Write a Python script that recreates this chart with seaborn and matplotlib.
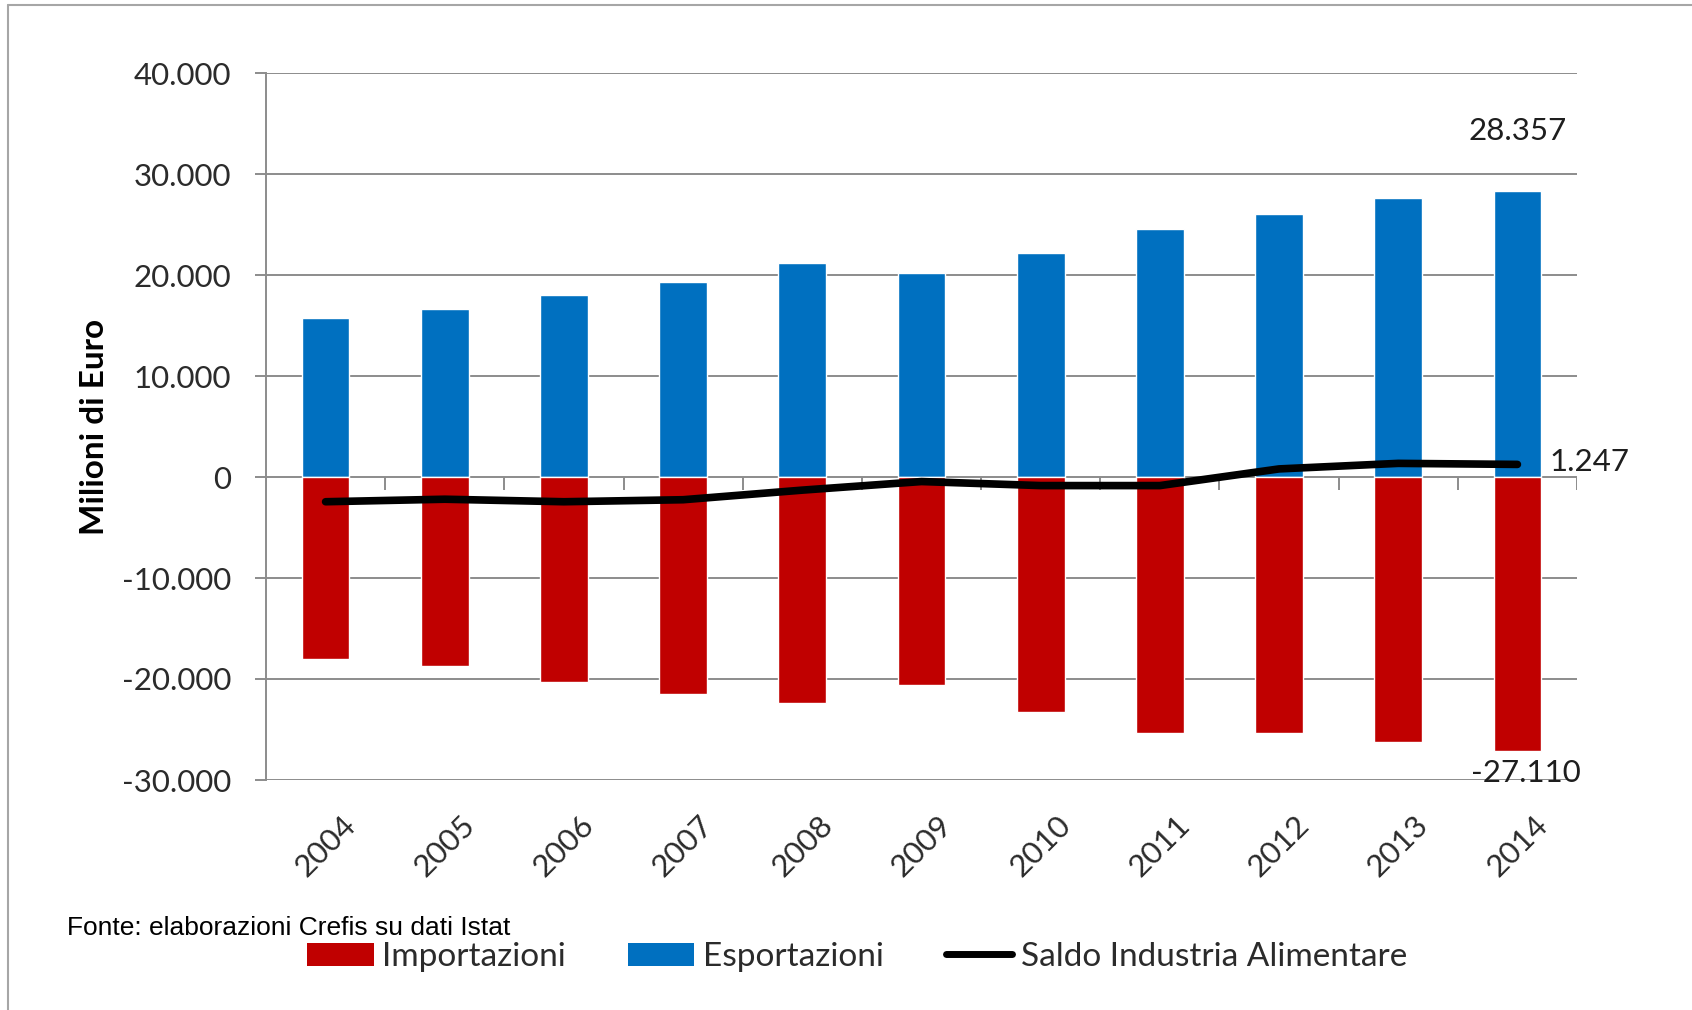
import numpy as np
import pandas as pd
import matplotlib
matplotlib.use("Agg")
import matplotlib.pyplot as plt
from matplotlib.patches import Patch
from matplotlib.lines import Line2D
import seaborn as sns

# Food industry trade balance, millions of euro
years = ["2004", "2005", "2006", "2007", "2008", "2009",
         "2010", "2011", "2012", "2013", "2014"]
esportazioni = [15700, 16650, 18050, 19350, 21150, 20200,
                22200, 24550, 26050, 27650, 28357]
importazioni = [-18050, -18700, -20300, -21450, -22350, -20600,
                -23300, -25300, -25300, -26200, -27110]
saldo = [-2450, -2200, -2450, -2250, -1300, -450,
         -850, -850, 800, 1350, 1247]
yticks = [-30000, -20000, -10000, 0, 10000, 20000, 30000, 40000]

BLUE = "#0070C0"
RED = "#C00000"
GRID = "#8c8c8c"
TXT = "#2b2b2b"

sns.set_style("white")
plt.rcParams["font.family"] = ["Lato", "DejaVu Sans"]

df = pd.DataFrame({"anno": years, "exp": esportazioni, "imp": importazioni,
                   "saldo": saldo})
df["pos"] = np.arange(len(df))

fig = plt.figure(figsize=(16.92, 10.10), dpi=100)
ax = fig.add_axes([266 / 1692, 1 - 780 / 1010, 1311 / 1692, 707 / 1010])

sns.barplot(data=df, x="anno", y="exp", color=BLUE, width=0.4,
            saturation=1, ax=ax, zorder=2)
sns.barplot(data=df, x="anno", y="imp", color=RED, width=0.4,
            saturation=1, ax=ax, zorder=2)
sns.lineplot(data=df, x="pos", y="saldo", color="black", lw=5.5,
             ax=ax, zorder=4, solid_capstyle="round")

ax.set_xlim(-0.5, len(years) - 0.5)
ax.set_ylim(-30000, 40000)
ax.set_yticks(yticks)
ax.set_yticklabels([f"{v:,}".replace(",", ".") for v in yticks])
ax.set_xticks(range(len(years)))
ax.set_xticklabels(years, rotation=45, ha="center")

ax.yaxis.grid(True, color=GRID, lw=1.4)
ax.set_axisbelow(True)
for s in ("top", "right", "bottom"):
    ax.spines[s].set_visible(False)
ax.spines["left"].set_color(GRID)
ax.spines["left"].set_linewidth(1.4)

ax.tick_params(axis="y", direction="out", length=8, width=1.4, color=GRID,
               pad=17, labelsize=22.5, labelcolor=TXT, left=True)
ax.tick_params(axis="x", length=0, pad=22, labelsize=22.5, labelcolor=TXT)

# category separators hanging from the zero line
ax.vlines(np.arange(-0.5, len(years), 1.0), 0, -1300, color=GRID, lw=1.4,
          zorder=1)

ax.set_xlabel("")
ax.set_ylabel("Milioni di Euro", fontsize=24, fontweight="bold",
              color="black", labelpad=9)

fmt = lambda v: f"{v:,}".replace(",", ".")
ax.annotate(fmt(esportazioni[-1]), xy=(10, esportazioni[-1]), xytext=(0, 60),
            textcoords="offset pixels", ha="center", va="center",
            fontsize=22.5, color="#1e1e1e")
ax.annotate(fmt(saldo[-1]), xy=(10, saldo[-1]), xytext=(32, 2),
            textcoords="offset pixels", ha="left", va="center",
            fontsize=22.5, color="#1e1e1e")
ax.annotate(fmt(importazioni[-1]), xy=(10, importazioni[-1]), xytext=(8, -22),
            textcoords="offset pixels", ha="center", va="center",
            fontsize=22.5, color="#1e1e1e")

handles = [Patch(facecolor=RED, edgecolor="none"),
           Patch(facecolor=BLUE, edgecolor="none"),
           Line2D([], [], color="black", lw=5)]
labels = ["Importazioni", "Esportazioni", "Saldo Industria Alimentare"]
fig.legend(handles, labels, loc="center", bbox_to_anchor=(857 / 1692, 1 - 957 / 1010),
           ncol=3, frameon=False, fontsize=24, labelcolor=TXT,
           handlelength=2.0, handleheight=0.7, handletextpad=0.26,
           columnspacing=1.85)

fig.text(67 / 1692, 1 - 928 / 1010, "Fonte: elaborazioni Crefis su dati Istat",
         family=["Liberation Sans", "DejaVu Sans"], fontsize=19,
         ha="left", va="center", color="black")

# outer frame
fig.add_artist(Line2D([8 / 1692, 8 / 1692], [0, 1 - 5 / 1010],
                      transform=fig.transFigure, color="#a6a6a6", lw=1.5))
fig.add_artist(Line2D([8 / 1692, 1], [1 - 5 / 1010, 1 - 5 / 1010],
                      transform=fig.transFigure, color="#a6a6a6", lw=1.5))

fig.savefig("out.png", dpi=100)
